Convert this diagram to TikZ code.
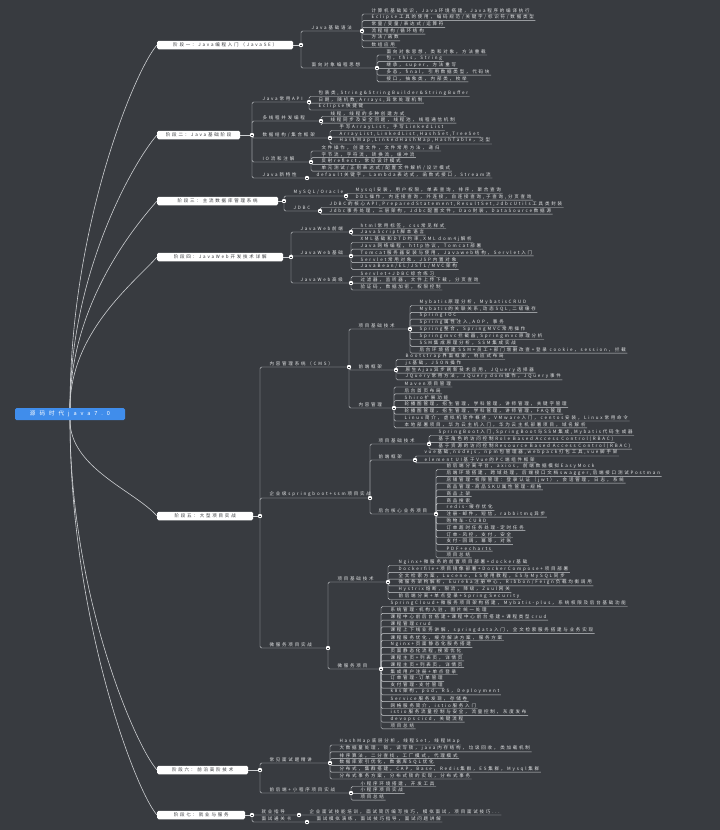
\documentclass[tikz,border=0pt]{standalone}
\usepackage{fontspec}
\setmainfont{Noto Sans CJK SC}[LetterSpace=40]
\usetikzlibrary{backgrounds}

\definecolor{bgcol}{RGB}{56,59,64}
\definecolor{linecol}{RGB}{205,207,210}
\definecolor{txtcol}{RGB}{228,229,231}
\definecolor{rootcol}{RGB}{64,141,235}
\definecolor{boxtxt}{RGB}{52,54,58}
\newcommand\mapfont{\fontsize{4.5pt}{5.2pt}\selectfont}

\tikzset{
  rootbox/.style={fill=rootcol, rounded corners=1.5pt, minimum width=110pt, minimum height=12pt,
    inner sep=0pt, text=white, font=\fontsize{5.6pt}{6.5pt}\selectfont\addfontfeature{LetterSpace=70}},
  stagebox/.style={anchor=west, fill=white, rounded corners=1.5pt, minimum height=8.5pt,
    inner sep=0pt, text=boxtxt, font=\mapfont},
  leaf/.style={anchor=south west, inner xsep=1.4pt, inner ysep=0.8pt, text=txtcol, font=\mapfont},
  topic/.style={leaf},
  dot/.style={circle, fill=white, minimum size=4.4pt, inner sep=0pt,
    path picture={\draw[bgcol, line width=0.45pt] ([xshift=-1.2pt]path picture bounding box.center)
      -- ([xshift=1.2pt]path picture bounding box.center);}},
  link/.style={draw=linecol, line width=0.45pt, rounded corners=1.5pt},
  branch/.style={draw=linecol, line width=0.6pt}
}

\begin{document}
\begin{tikzpicture}[x=1pt, y=-1pt]
\useasboundingbox (0,0) rectangle (720,830);

% centre
\node[rootbox] (root) at (70,414) {源码时代java7.0};

% stages
\node[stagebox, minimum width=136pt] (s1) at (157,45) {阶段一：Java编程入门（JavaSE）};
\node[stagebox, minimum width=83pt] (s2) at (157,135) {阶段二：Java基础阶段};
\node[stagebox, minimum width=121pt] (s3) at (157,201) {阶段三：主流数据库管理系统};
\node[stagebox, minimum width=126pt] (s4) at (157,257) {阶段四：JavaWeb开发技术详解};
\node[stagebox, minimum width=96pt] (s5) at (157,516) {阶段五：大型项目实战};
\node[stagebox, minimum width=91pt] (s6) at (157,770) {阶段六：前沿高阶技术};
\node[stagebox, minimum width=88pt] (s7) at (157,815) {阶段七：就业与服务};

% stage 1
\node[topic] (s1a) at (310,31) {Java基础语法};
\node[leaf] (s1a1) at (370,14) {计算机基础知识，Java环境搭建，Java程序的编译执行};
\node[leaf] (s1a2) at (370,20.7) {Eclipse工具的使用，编码规范/关键字/标识符/数据类型};
\node[leaf] (s1a3) at (370,27.4) {常量/变量/表达式/运算符};
\node[leaf] (s1a4) at (370,34.1) {流程结构/循环结构};
\node[leaf] (s1a5) at (370,40.8) {方法/函数};
\node[leaf] (s1a6) at (370,47.5) {数组应用};
\node[topic] (s1b) at (310,68) {面向对象编程思想};
\node[leaf] (s1b1) at (385,55) {面向对象思想，类和对象，方法重载};
\node[leaf] (s1b2) at (385,61.7) {包，this，String};
\node[leaf] (s1b3) at (385,68.4) {继承，super，方法重写};
\node[leaf] (s1b4) at (385,75.1) {多态，final，引用数据类型，代码块};
\node[leaf] (s1b5) at (385,81.8) {接口，抽象类，内部类，枚举};

% stage 2
\node[topic] (s2a) at (261,102) {Java常用API};
\node[leaf] (s2a1) at (317,96.5) {包装类,String\&StringBuilder\&StringBuffer};
\node[leaf] (s2a2) at (317,103.2) {日期，随机数,Arrays,异常处理机制};
\node[leaf] (s2a3) at (317,110) {Eclipse快捷键};
\node[topic] (s2b) at (261,121) {多线程并发编程};
\node[leaf] (s2b1) at (329,116.5) {线程，线程的多种创建方式};
\node[leaf] (s2b2) at (329,123.2) {线程同步及安全问题，线程池，线程通信机制};
\node[topic] (s2c) at (261,138) {数据结构/集合框架};
\node[leaf] (s2c1) at (338,130.5) {手写ArrayList，手写LinkedList};
\node[leaf] (s2c2) at (338,137.2) {ArrayList,LinkedList,HashSet,TreeSet};
\node[leaf] (s2c3) at (338,144) {HashMap,LinkedHashMap,HashTable，泛型};
\node[topic] (s2d) at (261,162) {IO流和注解};
\node[leaf] (s2d1) at (320,151) {文件操作，创建文件，文件常用方法，递归};
\node[leaf] (s2d2) at (320,157.7) {字节流，字符流，转换流，缓冲流};
\node[leaf] (s2d3) at (320,164.4) {反射reflect，常见设计模式};
\node[leaf] (s2d4) at (320,171.1) {单元测试/正则表达式/配置文件解析/设计模式};
\node[topic] (s2e) at (261,178) {Java新特性};
\node[leaf] (s2e1) at (315,178) {default关键字，Lambda表达式，函数式接口，Stream流};

% stage 3
\node[topic] (s3a) at (292,196) {MySQL/Oracle};
\node[leaf] (s3a1) at (354,193.5) {Mysql安装，用户权限，单表查询，排序，聚合查询};
\node[leaf] (s3a2) at (354,200.2) {DDL操作，内连接查询，外连接，自连接查询,子查询,分页查询};
\node[topic] (s3b) at (292,211) {JDBC};
\node[leaf] (s3b1) at (328,207.5) {JDBC的核心API,PreparedStatement,ResultSet,JdbcUtils工具类封装};
\node[leaf] (s3b2) at (328,214.2) {Jdbc事务处理，三层架构，Jdbc配置文件，Dao封装，DataSource数据源};

% stage 4
\node[topic] (s4a) at (299,232) {JavaWeb前端};
\node[leaf] (s4a1) at (359,228.5) {html常用标签，css常见样式};
\node[leaf] (s4a2) at (359,235.2) {JavaScript脚本语言};
\node[topic] (s4b) at (299,256) {JavaWeb基础};
\node[leaf] (s4b1) at (359,242.5) {XML基础和DTD约束,XML dom4j解析};
\node[leaf] (s4b2) at (359,249.2) {Java网络编程，http协议，Tomcat部署};
\node[leaf] (s4b3) at (359,255.9) {Tomcat服务器安装与使用，Javaweb结构，Servlet入门};
\node[leaf] (s4b4) at (359,262.6) {Servlet常用对象，JSP内置对象};
\node[leaf] (s4b5) at (359,269.3) {JavaBean/EL/JSTL/MVC架构};
\node[topic] (s4c) at (299,283) {JavaWeb高级};
\node[leaf] (s4c1) at (359,276.5) {Servlet+JDBC综合练习};
\node[leaf] (s4c2) at (359,283.2) {过滤器，监听器，文件上传下载，分页查询};
\node[leaf] (s4c3) at (359,290) {验证码，数据加密，权限控制};

% stage 5
\node[topic] (s5a) at (268,367) {内容管理系统（CMS）};
\node[topic] (s5aa) at (357,329) {项目基础技术};
\node[leaf] (s5aa1) at (418,305.5) {Mybatis原理分析，MybatisCRUD};
\node[leaf] (s5aa2) at (418,312.3) {Mybatis的关联关系,动态SQL,二级缓存};
\node[leaf] (s5aa3) at (418,319.1) {Spring IOC};
\node[leaf] (s5aa4) at (418,325.9) {Spring属性注入,AOP，事务};
\node[leaf] (s5aa5) at (418,332.7) {Spring整合，SpringMVC常用操作};
\node[leaf] (s5aa6) at (418,339.5) {Springmvc拦截器,Springmvc原理分析};
\node[leaf] (s5aa7) at (418,346.3) {SSM集成原理分析，SSM集成实战};
\node[leaf] (s5aa8) at (418,353.1) {后台环境搭建 SSM+员工+部门增删改查+登录 cookie，session，拦截};
\node[topic] (s5ab) at (357,370) {前端框架};
\node[leaf] (s5ab1) at (404,359.5) {Bootstrap界面框架，响应式布局};
\node[leaf] (s5ab2) at (404,366.3) {js基础，JSON操作};
\node[leaf] (s5ab3) at (404,373.1) {原生Ajax异步刷新技术应用，JQuery选择器};
\node[leaf] (s5ab4) at (404,379.9) {JQuery常用方法，JQuery dom操作，JQuery事件};
\node[topic] (s5ac) at (357,408) {内容管理};
\node[leaf] (s5ac1) at (403,387) {Maven项目管理};
\node[leaf] (s5ac2) at (403,393.8) {后台首页布局};
\node[leaf] (s5ac3) at (403,400.6) {Shiro扩展功能};
\node[leaf] (s5ac4) at (403,407.4) {轮播图管理，招生管理，学科管理，讲师管理，关键字管理};
\node[leaf] (s5ac5) at (403,414.2) {轮播图管理，招生管理，学科管理，讲师管理，FAQ管理};
\node[leaf] (s5ac6) at (403,421) {Linux简介，虚拟机软件概述，VMware入门，centos安装，Linux常用命令};
\node[leaf] (s5ac7) at (403,427.8) {本地部署项目，华为云主机入门，华为云主机部署项目，域名解析};
\node[topic] (s5b) at (268,498) {企业级springboot+ssm项目实战};
\node[topic] (s5ba) at (377,444) {项目基础技术};
\node[leaf] (s5ba1) at (437,435.5) {SpringBoot入门,SpringBoot与SSM集成,Mybatis代码生成器};
\node[leaf] (s5ba2) at (437,442.3) {基于角色的访问控制Role Based Access Control(RBAC)};
\node[leaf] (s5ba3) at (437,449.1) {基于资源的访问控制Resource Based Access Control(RBAC)};
\node[topic] (s5bb) at (377,460) {前端框架};
\node[leaf] (s5bb1) at (423,456) {vue基础,nodejs，npm包管理器,webpack打包工具,vue脚手架};
\node[leaf] (s5bb2) at (423,462.8) {element UI基于Vue的PC端组件框架};
\node[topic] (s5bc) at (377,514) {后台核心业务项目};
\node[leaf] (s5bc1) at (445,469.5) {前后端分离平台，axios，前端数据模拟EasyMock};
\node[leaf] (s5bc2) at (445,476.3) {后端环境搭建，跨域处理，后端接口文档swagger,后端接口测试Postman};
\node[leaf] (s5bc3) at (445,483.1) {店铺管理-权限管理：登录认证（jwt），会话管理，日志，系统};
\node[leaf] (s5bc4) at (445,489.9) {商品管理-商品SKU属性管理-规格};
\node[leaf] (s5bc5) at (445,496.7) {商品上架};
\node[leaf] (s5bc6) at (445,503.5) {商品搜索};
\node[leaf] (s5bc7) at (445,510.3) {redis-缓存优化};
\node[leaf] (s5bc8) at (445,517.1) {注册-邮件，短信，rabbitmq异步};
\node[leaf] (s5bc9) at (445,523.9) {购物车-CURD};
\node[leaf] (s5bc10) at (445,530.7) {订单超时任务处理-定时任务};
\node[leaf] (s5bc11) at (445,537.5) {订单-风控，支付，安全};
\node[leaf] (s5bc12) at (445,544.3) {支付-回调，幂等，对账};
\node[leaf] (s5bc13) at (445,551.1) {PDF+echarts};
\node[leaf] (s5bc14) at (445,557.9) {项目总结};
\node[topic] (s5c) at (268,648) {微服务项目实战};
\node[topic] (s5ca) at (336,582) {项目基础技术};
\node[leaf] (s5ca1) at (397,565.5) {Nginx+微服务的前置项目部署+docker基础};
\node[leaf] (s5ca2) at (397,572.3) {Dockerfile+项目镜像部署+DockerCompose+项目部署};
\node[leaf] (s5ca3) at (397,579.1) {全文检索方案，Lucene，ES使用教程，ES与MySQL同步};
\node[leaf] (s5ca4) at (397,585.9) {微服务架构解析，Eureka注册中心，Ribbon/Feign负载均衡调用};
\node[leaf] (s5ca5) at (397,592.7) {Hystrix熔断，限流，降级，Zuul网关};
\node[leaf] (s5ca6) at (397,599.5) {前后端分离+单点登录+Spring Security};
\node[topic] (s5cb) at (336,669) {微服务项目};
\node[leaf] (s5cb1) at (389,606.5) {SpringCloud+微服务项目架构搭建，Mybatis-plus，系统权限及后台基础功能};
\node[leaf] (s5cb2) at (389,613.3) {系统管理-机构入驻，图片统一处理};
\node[leaf] (s5cb3) at (389,620.1) {课程中心前后台搭建+课程中心前台搭建+课程类型crud};
\node[leaf] (s5cb4) at (389,626.9) {课程管理crud};
\node[leaf] (s5cb5) at (389,633.7) {课程上下线业务讲解，springdata入门，全文检索服务搭建与业务实现};
\node[leaf] (s5cb6) at (389,640.5) {课程服务优化，缓存解决方案，服务方案};
\node[leaf] (s5cb7) at (389,647.3) {Nginx+页面静态化服务搭建};
\node[leaf] (s5cb8) at (389,654.1) {页面静态化流程,搜索优化};
\node[leaf] (s5cb9) at (389,660.9) {课程主页+列表页，详情页};
\node[leaf] (s5cb10) at (389,667.7) {课程主页+列表页，详情页};
\node[leaf] (s5cb11) at (389,674.5) {集成用户注册+单点登录};
\node[leaf] (s5cb12) at (389,681.3) {订单管理-订单管理};
\node[leaf] (s5cb13) at (389,688.1) {支付管理-支付管理};
\node[leaf] (s5cb14) at (389,694.9) {k8s架构，pod，RS，Deployment};
\node[leaf] (s5cb15) at (389,701.7) {Service服务发现，存储卷};
\node[leaf] (s5cb16) at (389,708.5) {网格服务简介，istio服务入门};
\node[leaf] (s5cb17) at (389,715.3) {istio服务流量控制与安全，流量控制，灰度发布};
\node[leaf] (s5cb18) at (389,722.1) {devops cicd，关键流程};
\node[leaf] (s5cb19) at (389,728.9) {项目总结};

% stage 6
\node[topic] (s6a) at (268,763) {常见面试题精讲};
\node[leaf] (s6a1) at (338,745) {HashMap底层分析，线程Set，线程Map};
\node[leaf] (s6a2) at (338,751.8) {大数据量处理，锁，读写锁，java内存结构，垃圾回收，类加载机制};
\node[leaf] (s6a3) at (338,758.6) {排序算法，二分查找，工厂模式，代理模式};
\node[leaf] (s6a4) at (338,765.4) {数据库索引优化，数据库SQL优化};
\node[leaf] (s6a5) at (338,772.2) {分布式，集群搭建，CAP，Base，Redis集群，ES集群，Mysql集群};
\node[leaf] (s6a6) at (338,779) {分布式事务方案，分布式锁的实现，分布式事务};
\node[topic] (s6b) at (268,793) {前后端+小程序项目实战};
\node[leaf] (s6b1) at (359,786.5) {小程序环境搭建，开发工具};
\node[leaf] (s6b2) at (359,793.3) {小程序项目实战};
\node[leaf] (s6b3) at (359,800.1) {项目总结};

% stage 7
\node[topic] (s7a) at (260,815) {就业指导};
\node[leaf] (s7a1) at (308,815) {企业面试技能培训，面试简历编写技巧，模拟面试，项目面试技巧...};
\node[topic] (s7b) at (260,822) {面试通关卡};
\node[leaf] (s7b1) at (315,822) {面试模拟演练，面试技巧指导，面试问题讲解};

% collapse markers
\node[dot] (s1m) at (301,45) {};
\node[dot] (s1am) at (362,31) {};
\node[dot] (s1bm) at (377,68) {};
\node[dot] (s2m) at (252,135) {};
\node[dot] (s2am) at (309,102) {};
\node[dot] (s2bm) at (321,121) {};
\node[dot] (s2cm) at (330,138) {};
\node[dot] (s2dm) at (311,162) {};
\node[dot] (s2em) at (307,178) {};
\node[dot] (s3m) at (284,201) {};
\node[dot] (s3am) at (346,196) {};
\node[dot] (s3bm) at (320,211) {};
\node[dot] (s4m) at (291,257) {};
\node[dot] (s4am) at (351,232) {};
\node[dot] (s4bm) at (351,256) {};
\node[dot] (s4cm) at (351,283) {};
\node[dot] (s5m) at (260,516) {};
\node[dot] (s5am) at (349,367) {};
\node[dot] (s5aam) at (410,329) {};
\node[dot] (s5abm) at (396,370) {};
\node[dot] (s5acm) at (394,408) {};
\node[dot] (s5bm) at (370,498) {};
\node[dot] (s5bam) at (429,444) {};
\node[dot] (s5bbm) at (415,460) {};
\node[dot] (s5bcm) at (436,514) {};
\node[dot] (s5cm) at (328,648) {};
\node[dot] (s5cam) at (388,582) {};
\node[dot] (s5cbm) at (381,669) {};
\node[dot] (s6m) at (260,770) {};
\node[dot] (s6am) at (330,763) {};
\node[dot] (s6bm) at (351,793) {};
\node[dot] (s7m) at (252,815) {};
\node[dot] (s7am) at (299,815) {};
\node[dot] (s7bm) at (307,822) {};

\begin{scope}[on background layer]
\fill[bgcol] (0,0) rectangle (720,830);
% root to stages
\draw[branch] (root.north) .. controls (70,226) and (135,70) .. (s1.west);
\draw[branch] (root.north) .. controls (70,271) and (135,160) .. (s2.west);
\draw[branch] (root.north) .. controls (70,304) and (135,226) .. (s3.west);
\draw[branch] (root.north) .. controls (70,332) and (135,282) .. (s4.west);
\draw[branch] (root.south) .. controls (70,468) and (135,491) .. (s5.west);
\draw[branch] (root.south) .. controls (70,595) and (135,745) .. (s6.west);
\draw[branch] (root.south) .. controls (70,617) and (135,790) .. (s7.west);
% stage stubs
\foreach \s in {s1,s2,s3,s4,s5,s6,s7} \draw[link] (\s.east) -- (\s m);
% second level
\foreach \c in {s1a,s1b} \draw[link] (s1m) |- (\c.south west) -- (\c m);
\foreach \c in {s2a,s2b,s2c,s2d,s2e} \draw[link] (s2m) |- (\c.south west) -- (\c m);
\foreach \c in {s3a,s3b} \draw[link] (s3m) |- (\c.south west) -- (\c m);
\foreach \c in {s4a,s4b,s4c} \draw[link] (s4m) |- (\c.south west) -- (\c m);
\foreach \c in {s5a,s5b,s5c} \draw[link] (s5m) |- (\c.south west) -- (\c m);
\foreach \c in {s6a,s6b} \draw[link] (s6m) |- (\c.south west) -- (\c m);
\foreach \c in {s7a,s7b} \draw[link] (s7m) |- (\c.south west) -- (\c m);
% third level in stage 5
\foreach \c in {s5aa,s5ab,s5ac} \draw[link] (s5am) |- (\c.south west) -- (\c m);
\foreach \c in {s5ba,s5bb,s5bc} \draw[link] (s5bm) |- (\c.south west) -- (\c m);
\foreach \c in {s5ca,s5cb} \draw[link] (s5cm) |- (\c.south west) -- (\c m);
% leaves
\foreach \g/\n in {s1a/6,s1b/5,s2a/3,s2b/2,s2c/3,s2d/4,s2e/1,s3a/2,s3b/2,s4a/2,s4b/5,s4c/3,
  s5aa/8,s5ab/4,s5ac/7,s5ba/3,s5bb/2,s5bc/14,s5ca/6,s5cb/19,s6a/6,s6b/3,s7a/1,s7b/1}
  \foreach \i in {1,...,\n} \draw[link] (\g m) |- (\g\i.south west) -- (\g\i.south east);
\end{scope}
\end{tikzpicture}
\end{document}
